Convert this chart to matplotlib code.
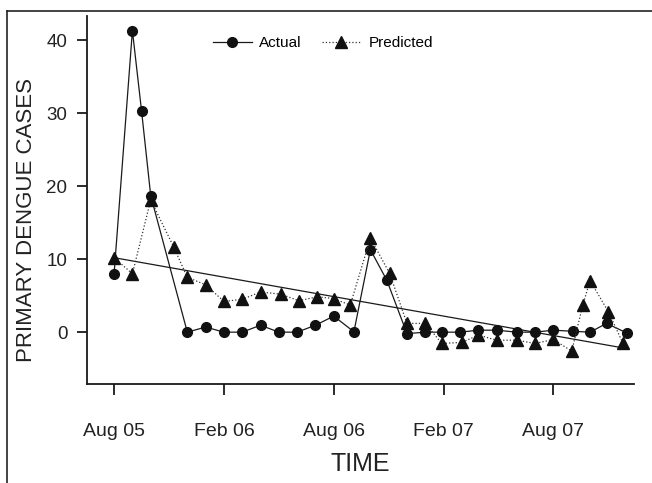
# Primary dengue cases: actual vs predicted, with linear trend

import matplotlib
matplotlib.use("Agg")
import matplotlib.pyplot as plt
from matplotlib.lines import Line2D

plt.rcParams['font.family'] = ['Liberation Sans', 'DejaVu Sans']

# months since Aug 05
actual_x = [0, 1, 1.5, 2, 4, 5, 6, 7, 8, 9, 10, 11, 12, 13.1, 14, 14.9, 16, 17,
            17.9, 18.9, 19.9, 20.9, 22, 23, 24, 25.05, 26, 26.9, 28]
actual_y = [8.0, 41.3, 30.3, 18.7, 0.0, 0.7, 0.0, 0.0, 0.95, 0.0, 0.0, 0.95, 2.2,
            0.05, 11.3, 7.1, -0.2, 0.0, 0.0, 0.0, 0.27, 0.27, 0.0, 0.0, 0.27,
            0.12, 0.0, 1.2, -0.1]

pred_x = [0, 1, 2, 3.25, 4, 5, 6, 7, 8, 9.1, 10.1, 11.1, 12, 12.9, 14, 15.05,
          16, 17, 17.9, 19, 19.9, 20.9, 22, 23, 24, 25, 25.6, 26, 27, 27.8]
pred_y = [10.2, 8.0, 18.1, 11.7, 7.5, 6.5, 4.2, 4.5, 5.5, 5.2, 4.3, 4.85, 4.6,
          3.7, 12.9, 8.05, 1.2, 1.2, -1.55, -1.4, -0.4, -1.1, -1.1, -1.55, -1.0,
          -2.6, 3.7, 7.05, 2.8, -1.55]

trend_x = [0, 27.9]
trend_y = [10.2, -2.2]

tick_pos = [0, 6, 12, 18, 24]
tick_labels = ["Aug 05", "Feb 06", "Aug 06", "Feb 07", "Aug 07"]
y_ticks = [0, 10, 20, 30, 40]

fig = plt.figure(figsize=(6.52, 4.83), dpi=100)
ax = fig.add_axes([87 / 652, 1 - 384 / 483, 547 / 652, 368 / 483])

# outer frame (left and top only, the rest is cut off)
fig.add_artist(Line2D([6.5 / 652, 6.5 / 652], [0, 1 - 11 / 483],
                      transform=fig.transFigure, color='#222222', lw=1.2))
fig.add_artist(Line2D([6.5 / 652, 1], [1 - 11 / 483, 1 - 11 / 483],
                      transform=fig.transFigure, color='#222222', lw=1.2))

ax.plot(trend_x, trend_y, color='#1a1a1a', lw=0.9, zorder=1)
ax.plot(actual_x, actual_y, color='#1a1a1a', lw=0.9, marker='o', ms=7,
        mfc='#111111', mec='#111111', label='Actual', zorder=3)
ax.plot(pred_x, pred_y, color='#333333', lw=0.9, ls=':', marker='^', ms=9,
        mfc='#111111', mec='#111111', label='Predicted', zorder=4)

ax.set_xlim(-1.48, 28.4)
ax.set_ylim(-7.1, 43.3)
ax.set_xticks(tick_pos)
ax.set_xticklabels(tick_labels)
ax.set_yticks(y_ticks)

for s in ['top', 'right']:
    ax.spines[s].set_visible(False)
for s in ['left', 'bottom']:
    ax.spines[s].set_linewidth(1.3)
    ax.spines[s].set_color('#1a1a1a')

ax.tick_params(axis='x', length=8, width=1.3, pad=20, labelsize=14,
               color='#1a1a1a', labelcolor='#222222')
ax.tick_params(axis='y', length=7.2, width=1.3, pad=7, labelsize=13.5,
               color='#1a1a1a', labelcolor='#222222')

ax.set_xlabel("TIME", fontsize=18, labelpad=9, color='#222222')
ax.set_ylabel("PRIMARY DENGUE CASES", fontsize=16, color='#222222')
ax.yaxis.set_label_coords(-0.092, 0.446)

ax.legend(ncol=2, frameon=False, fontsize=11, loc='center left',
          bbox_to_anchor=(0.23, 0.927), borderpad=0, borderaxespad=0,
          handlelength=2.55, handletextpad=0.5, columnspacing=1.3)

fig.savefig("out.png", dpi=100)
